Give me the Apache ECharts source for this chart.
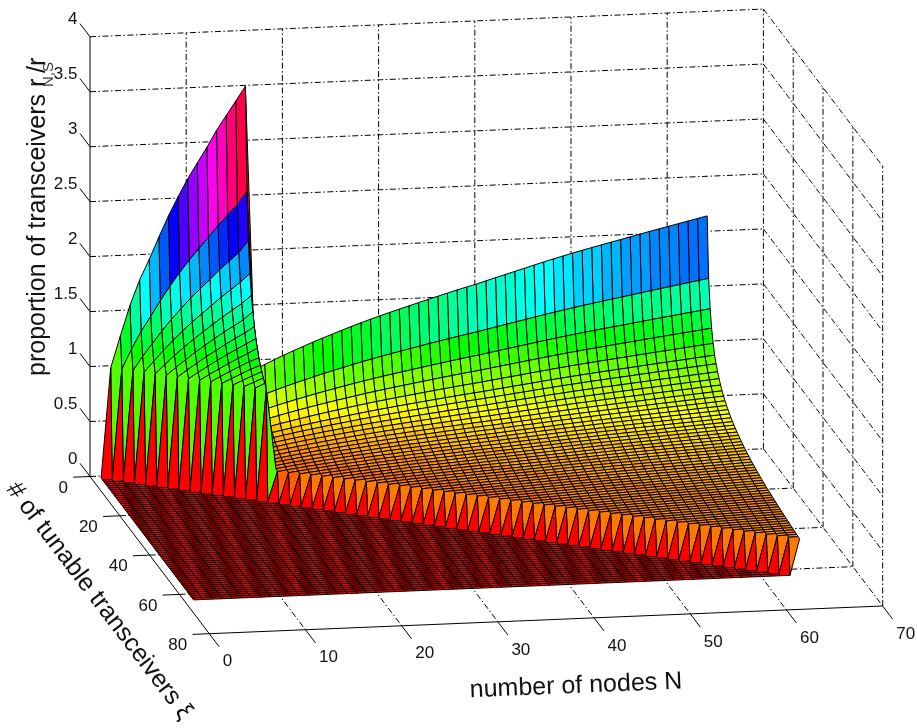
<!DOCTYPE html>
<html><head><meta charset="utf-8">
<style>html,body{margin:0;padding:0;background:#fff}#c{width:917px;height:728px}</style>
<script src="https://cdn.jsdelivr.net/npm/echarts@6/dist/echarts.min.js"></script>
</head><body><div id="c"></div>
<script>
// ---------- values ----------
const zTicks = [0,0.5,1,1.5,2,2.5,3,3.5,4];
const zTickLabels = ['0','0.5','1','1.5','2','2.5','3','3.5','4'];
const sTicks = [0,20,40,60,80];
const nTicks = [0,10,20,30,40,50,60,70];
const nodeCount = 64;   // N runs 1..64
const tunableCount = 63; // s runs 1..63
// left sheet: one row per N = 2..16, values for s = 1..N-1
const leftSheet = [
 [1],
 [1.285,1.0],
 [1.56,1.178,1.0],
 [1.787,1.337,1.127,1.0],
 [1.97,1.471,1.24,1.098,1.0],
 [2.17,1.608,1.35,1.19,1.082,1.0],
 [2.36,1.738,1.453,1.28,1.16,1.07,1.0],
 [2.53,1.856,1.549,1.362,1.233,1.136,1.06,1.0],
 [2.69,1.968,1.64,1.44,1.303,1.2,1.119,1.054,1.0],
 [2.83,2.069,1.722,1.512,1.367,1.26,1.175,1.106,1.048,1.0],
 [2.97,2.168,1.803,1.583,1.431,1.317,1.228,1.156,1.095,1.044,1.0],
 [3.12,2.272,1.886,1.654,1.493,1.374,1.28,1.204,1.141,1.087,1.04,1.0],
 [3.25,2.364,1.961,1.719,1.551,1.426,1.33,1.25,1.184,1.129,1.079,1.038,1.0],
 [3.38,2.455,2.036,1.783,1.608,1.478,1.377,1.295,1.226,1.168,1.118,1.074,1.035,1.0],
 [3.51,2.57,2.14,1.86,1.68,1.55,1.43,1.34,1.27,1.2,1.15,1.11,1.07,1.04,1.0]
];
// right sheet: back edge (s = 1) for N = 17..64
const rightBackEdge = [0.93,0.972,1.012,1.05,1.087,1.122,1.157,1.19,1.222,1.254,1.285,1.315,1.344,1.372,1.399,1.425,
 1.451,1.477,1.503,1.528,1.553,1.578,1.601,1.624,1.65,1.675,1.70,1.725,1.75,1.775,1.80,1.824,
 1.847,1.87,1.892,1.913,1.934,1.955,1.975,1.996,2.017,2.038,2.058,2.078,2.098,2.118,2.138,2.158];
// right sheet: far edge (N = 64) for s = 1..63
const rightFarEdge = [2.158,1.607,1.349,1.19,1.07,0.98,0.92,0.865,0.82,0.78,0.745,0.715,0.69,0.665,0.645,0.625,
 0.607,0.59,0.576,0.562,0.549,0.537,0.526,0.515,0.505,0.496,0.487,0.478,0.47,0.462,0.455,0.448,
 0.442,0.436,0.43,0.424,0.419,0.413,0.408,0.404,0.399,0.395,0.391,0.387,0.383,0.379,0.376,0.372,
 0.369,0.365,0.362,0.359,0.356,0.353,0.35,0.347,0.344,0.342,0.339,0.336,0.334,0.331,0.329];

// ---------- view of the 3D box (orthographic) ----------
const view = {ox:90, oy:476.5, nx:9.62, ny:-0.396, sx:1.491, sy:1.965, zy:-109.93};
const nMax = 70, sMax = 80, zMax = 4, zColorMax = 3.51;
function project(N,s,z){ return [view.ox+view.nx*N+view.sx*s, view.oy+view.ny*N+view.sy*s+view.zy*z]; }

function zAt(N,s){
  if (s >= N) return 0;
  if (N <= 16) return leftSheet[N-2][s-1];
  return rightBackEdge[N-17]*rightFarEdge[s-1]/rightFarEdge[0];
}
// flat colour from a 64-step hue wheel
function hueColor(z){
  let k = Math.floor(z/zColorMax*64); if (k>63) k=63; if (k<0) k=0;
  const h = k/64*6, i = Math.floor(h), f = h-i;
  const v = [[1,f,0],[1-f,1,0],[0,1,f],[0,1-f,1],[f,0,1],[1,0,1-f]][i];
  return 'rgb('+v.map(c=>Math.round(c*255)).join(',')+')';
}
// cells, far to near
const cellData = [];
for (let s=1; s<tunableCount; s++) for (let N=nodeCount-1; N>=1; N--) cellData.push([N,s]);

// walls/floor grid and axes as 3D segments
const gridSegs = [];
zTicks.forEach(z=>{ gridSegs.push([0,0,z,nMax,0,z]); gridSegs.push([nMax,0,z,nMax,sMax,z]); });
nTicks.slice(1).forEach(n=>{ gridSegs.push([n,0,0,n,0,zMax]); if(n<nMax) gridSegs.push([n,0,0,n,sMax,0]); });
sTicks.slice(1).forEach(t=>{ gridSegs.push([nMax,t,0,nMax,t,zMax]); if(t<sMax) gridSegs.push([0,t,0,nMax,t,0]); });
const axisSegs = [[0,0,0,0,0,zMax],[0,0,0,0,sMax,0],[0,sMax,0,nMax,sMax,0]];
zTicks.forEach(z=>axisSegs.push([0,0,z,0,-6.7,z]));
sTicks.forEach(t=>axisSegs.push([0,t,0,-1.74,t,0]));
nTicks.forEach(n=>axisSegs.push([n,sMax,0,n,sMax+6.7,0]));

function segItem(seg, api, style){
  const a = api.coord(project(seg[0],seg[1],seg[2])), b = api.coord(project(seg[3],seg[4],seg[5]));
  return {type:'line', shape:{x1:a[0],y1:a[1],x2:b[0],y2:b[1]}, style:style};
}
const tickFont = '17px "Liberation Sans", Arial, sans-serif';
const titleFont = '25px "Liberation Sans", Arial, sans-serif';
const labelData = [];
zTicks.forEach((z,i)=>labelData.push({value:[0,0],text:zTickLabels[i],p:[0,0,z],dx:-12.5,dy:-17,align:'right'}));
sTicks.forEach(t=>labelData.push({value:[0,0],text:String(t),p:[0,t,0],dx:-22,dy:11.5,align:'right'}));
nTicks.forEach(n=>labelData.push({value:[0,0],text:String(n),p:[n,sMax,0],dx:13.5,dy:28,align:'left'}));

const chart = echarts.init(document.getElementById('c'));
chart.setOption({
  animation:false,
  backgroundColor:'#fff',
  grid:{left:0,right:0,top:0,bottom:0},
  xAxis:{type:'value',min:0,max:917,show:false},
  yAxis:{type:'value',min:0,max:728,inverse:true,show:false},
  graphic:[
    {type:'text',x:38,y:376,rotation:Math.PI/2,style:{text:'proportion of transceivers r',font:titleFont,fill:'#111',textAlign:'left',textVerticalAlign:'middle',align:'left',verticalAlign:'middle'}},
    {type:'text',x:49,y:87,rotation:Math.PI/2,style:{text:'N,S',font:'15px "Liberation Sans", Arial, sans-serif',fill:'#333',textAlign:'left',textVerticalAlign:'middle',align:'left',verticalAlign:'middle'}},
    {type:'text',x:38,y:73,rotation:Math.PI/2,style:{text:'/r',font:titleFont,fill:'#111',textAlign:'left',textVerticalAlign:'middle',align:'left',verticalAlign:'middle'}},
    {type:'text',x:576,y:686,rotation:0.0411,style:{text:'number of nodes N',font:titleFont,fill:'#111',textAlign:'center',textVerticalAlign:'middle',align:'center',verticalAlign:'middle'}},
    {type:'text',x:11,y:485,rotation:-0.9215,style:{text:'# of tunable transceivers ξ',font:titleFont,fill:'#111',textAlign:'left',textVerticalAlign:'middle',align:'left',verticalAlign:'middle'}}
  ],
  series:[
    {type:'custom',name:'grid',coordinateSystem:'cartesian2d',clip:false,silent:true,z:1,progressive:0,
     data:gridSegs.map((s,i)=>[i,0]),
     renderItem:(p,api)=>segItem(gridSegs[p.dataIndex],api,{stroke:'#000',lineWidth:1,lineDash:[6,2.5,1.5,2.5],fill:null})},
    {type:'custom',name:'surface',coordinateSystem:'cartesian2d',clip:false,silent:true,z:2,progressive:0,
     data:cellData,
     renderItem:(p,api)=>{
       const N=api.value(0), s=api.value(1);
       const pts=[[N,s],[N+1,s],[N+1,s+1],[N,s+1]].map(q=>api.coord(project(q[0],q[1],zAt(q[0],q[1]))));
       return {type:'polygon',shape:{points:pts},style:{fill:hueColor(zAt(N,s)),stroke:'#000',lineWidth:1}};
     }},
    {type:'custom',name:'axes',coordinateSystem:'cartesian2d',clip:false,silent:true,z:3,progressive:0,
     data:axisSegs.map((s,i)=>[i,0]),
     renderItem:(p,api)=>segItem(axisSegs[p.dataIndex],api,{stroke:'#000',lineWidth:1,fill:null})},
    {type:'custom',name:'ticklabels',coordinateSystem:'cartesian2d',clip:false,silent:true,z:4,progressive:0,
     data:labelData,
     renderItem:(p,api)=>{
       const d=labelData[p.dataIndex], c=api.coord(project(d.p[0],d.p[1],d.p[2]));
       return {type:'text',style:{text:d.text,x:c[0]+d.dx,y:c[1]+d.dy,font:tickFont,fill:'#111',align:d.align,textAlign:d.align,verticalAlign:'middle',textVerticalAlign:'middle'}};
     }}
  ]
});
</script></body></html>
